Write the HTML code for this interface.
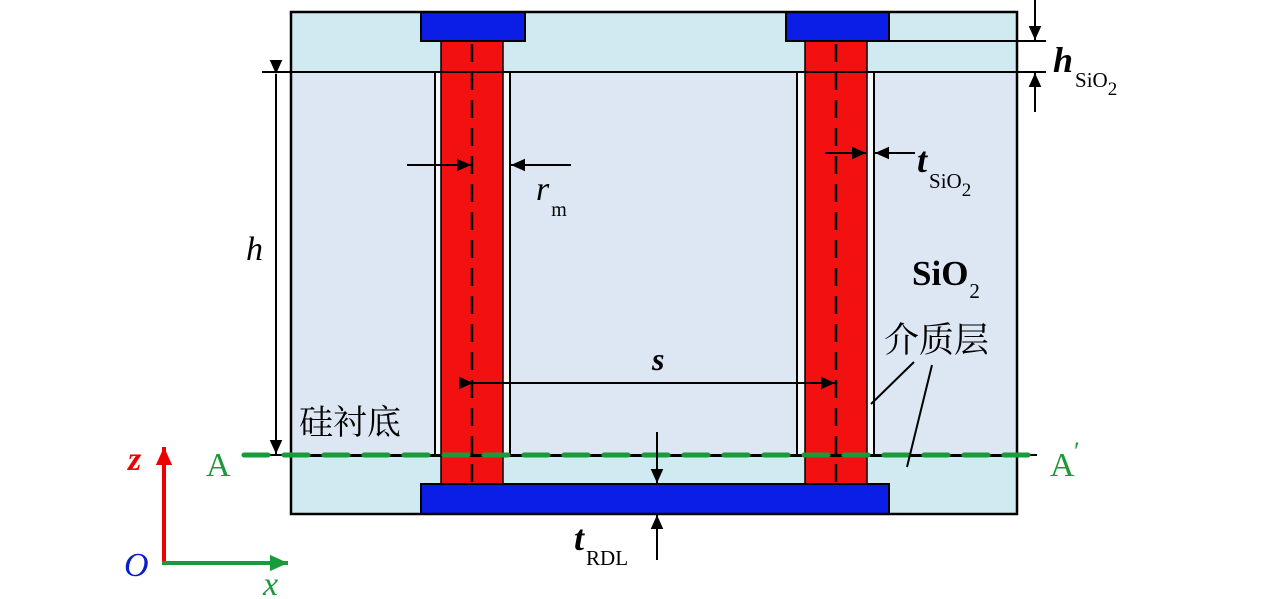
<!DOCTYPE html>
<html><head><meta charset="utf-8"><style>
html,body{margin:0;padding:0;background:#fff;}
svg{display:block}
.t{font-family:"Liberation Serif","Noto Serif CJK SC",serif;}
.c{font-family:"Liberation Serif","Noto Serif CJK SC","Noto Sans CJK SC",serif;}
</style></head><body>
<svg width="1269" height="599" viewBox="0 0 1269 599" xmlns="http://www.w3.org/2000/svg">
<defs>
<marker id="ah" viewBox="0 0 10 10" refX="10" refY="5" markerWidth="14" markerHeight="14" markerUnits="userSpaceOnUse" orient="auto"><path d="M0,0.5 L10,5 L0,9.5 z" fill="#000"/></marker>
<marker id="ar" viewBox="0 0 10 10" refX="10" refY="5" markerWidth="18" markerHeight="18" markerUnits="userSpaceOnUse" orient="auto"><path d="M0,0.5 L10,5 L0,9.5 z" fill="#e00"/></marker>
<marker id="ag" viewBox="0 0 10 10" refX="10" refY="5" markerWidth="18" markerHeight="18" markerUnits="userSpaceOnUse" orient="auto"><path d="M0,0.5 L10,5 L0,9.5 z" fill="#1a9a3a"/></marker>
</defs>
<rect x="291" y="12" width="726" height="502" fill="#cfeaf0"/>
<rect x="291" y="72" width="726" height="384" fill="#dde7f3"/>
<rect x="435" y="72" width="75" height="384" fill="#f4f8fb"/>
<rect x="797" y="72" width="77" height="384" fill="#f4f8fb"/>
<line x1="435" y1="72" x2="435" y2="456" stroke="#000" stroke-width="2"/>
<line x1="510" y1="72" x2="510" y2="456" stroke="#000" stroke-width="2"/>
<line x1="797" y1="72" x2="797" y2="456" stroke="#000" stroke-width="2"/>
<line x1="874" y1="72" x2="874" y2="456" stroke="#000" stroke-width="2"/>
<rect x="441" y="41" width="62" height="443" fill="#f21010" stroke="#000" stroke-width="1.5"/>
<rect x="805" y="41" width="62" height="443" fill="#f21010" stroke="#000" stroke-width="1.5"/>
<line x1="262" y1="72" x2="1046" y2="72" stroke="#000" stroke-width="2"/>
<line x1="889" y1="41" x2="1046" y2="41" stroke="#000" stroke-width="2"/>
<line x1="291" y1="456" x2="1017" y2="456" stroke="#000" stroke-width="2"/>
<rect x="421" y="12" width="104" height="29" fill="#0a1ee6" stroke="#000" stroke-width="2"/>
<rect x="786" y="12" width="103" height="29" fill="#0a1ee6" stroke="#000" stroke-width="2"/>
<rect x="421" y="484" width="468" height="30" fill="#0a1ee6" stroke="#000" stroke-width="2"/>
<rect x="291" y="12" width="726" height="502" fill="none" stroke="#000" stroke-width="2.5"/>
<line x1="472" y1="44" x2="472" y2="482" stroke="#000" stroke-width="2.5" stroke-dasharray="18,10"/>
<line x1="836" y1="44" x2="836" y2="482" stroke="#000" stroke-width="2.5" stroke-dasharray="18,10"/>
<line x1="242" y1="455" x2="1037" y2="455" stroke="#000" stroke-width="2"/>
<line x1="244" y1="455" x2="1037" y2="455" stroke="#1a9a3a" stroke-width="5" stroke-dasharray="24,16" stroke-linecap="round"/>
<line x1="276" y1="74" x2="276" y2="454" stroke="#000" stroke-width="2" marker-start="url(#ah)" marker-end="url(#ah)"/>
<text x="246" y="260" class="t" font-size="34" font-style="italic">h</text>
<line x1="407" y1="165" x2="471" y2="165" stroke="#000" stroke-width="2" marker-end="url(#ah)"/>
<line x1="571" y1="165" x2="511" y2="165" stroke="#000" stroke-width="2" marker-end="url(#ah)"/>
<text x="536" y="200" class="t" font-size="34" font-style="italic">r<tspan font-size="20" font-style="normal" dx="2" dy="16">m</tspan></text>
<line x1="825" y1="153" x2="866" y2="153" stroke="#000" stroke-width="2" marker-end="url(#ah)"/>
<line x1="915" y1="153" x2="875" y2="153" stroke="#000" stroke-width="2" marker-end="url(#ah)"/>
<text x="917" y="172" class="t" font-size="36" font-style="italic" font-weight="bold">t<tspan font-size="21" font-style="normal" font-weight="normal" dx="2" dy="16">SiO</tspan><tspan font-size="19" font-style="normal" font-weight="normal" dy="8">2</tspan></text>
<line x1="1035" y1="0" x2="1035" y2="40" stroke="#000" stroke-width="2" marker-end="url(#ah)"/>
<line x1="1035" y1="112" x2="1035" y2="73" stroke="#000" stroke-width="2" marker-end="url(#ah)"/>
<text x="1053" y="72" class="t" font-size="36" font-style="italic" font-weight="bold">h<tspan font-size="21" font-style="normal" font-weight="normal" dx="2" dy="15">SiO</tspan><tspan font-size="19" font-style="normal" font-weight="normal" dy="8">2</tspan></text>
<line x1="473" y1="383" x2="835" y2="383" stroke="#000" stroke-width="2" marker-start="url(#ah)" marker-end="url(#ah)"/>
<text x="652" y="370" class="t" font-size="32" font-style="italic" font-weight="bold">s</text>
<text x="912" y="285" class="t" font-size="35" font-weight="bold">SiO<tspan font-size="21" font-weight="normal" dx="1" dy="13">2</tspan></text>
<text x="884" y="352" class="c" font-size="35">介质层</text>
<line x1="914" y1="362" x2="871" y2="404" stroke="#000" stroke-width="2"/>
<line x1="932" y1="365" x2="907" y2="467" stroke="#000" stroke-width="2"/>
<text x="299" y="434" class="c" font-size="34">硅衬底</text>
<text x="206" y="476" class="t" font-size="34" fill="#1a9a3a">A</text>
<text x="1050" y="476" class="t" font-size="34" fill="#1a9a3a">A</text>
<text x="1074" y="460" class="t" font-size="26" fill="#1a9a3a">′</text>
<line x1="657" y1="432" x2="657" y2="483" stroke="#000" stroke-width="2" marker-end="url(#ah)"/>
<line x1="657" y1="560" x2="657" y2="515" stroke="#000" stroke-width="2" marker-end="url(#ah)"/>
<text x="574" y="550" class="t" font-size="36" font-style="italic" font-weight="bold">t<tspan font-size="21" font-style="normal" font-weight="normal" dx="2" dy="15">RDL</tspan></text>
<line x1="164" y1="564" x2="164" y2="447" stroke="#e00" stroke-width="4" marker-end="url(#ar)"/>
<line x1="162" y1="563" x2="288" y2="563" stroke="#1a9a3a" stroke-width="4" marker-end="url(#ag)"/>
<text x="128" y="470" class="t" font-size="34" font-style="italic" font-weight="bold" fill="#e00">z</text>
<text x="124" y="576" class="t" font-size="34" font-style="italic" fill="#0a1ec8">O</text>
<text x="263" y="595" class="t" font-size="34" font-style="italic" fill="#1a9a3a">x</text>
</svg>
</body></html>
